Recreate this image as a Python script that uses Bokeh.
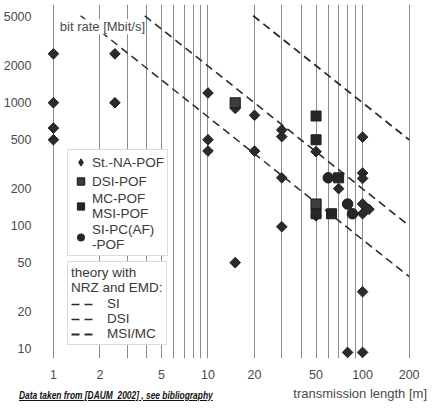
import math
from bokeh.plotting import figure
from bokeh.models import FixedTicker, Legend, LegendItem, Label, Range1d, Div
from bokeh.layouts import column
from bokeh.embed import file_html
from bokeh.resources import INLINE

# ---- axes / ticks ----
x_ticks = [1, 2, 5, 10, 20, 50, 100, 200]
x_tick_labels = ["1", "2", "5", "10", "20", "50", "100", "200"]
x_grid = [1, 2, 3, 4, 5, 6, 7, 8, 9, 10, 20, 30, 40, 50, 60, 70, 80, 90, 100, 200]
y_ticks = [10, 20, 50, 100, 200, 500, 1000, 2000, 5000]
y_tick_labels = ["10", "20", "50", "100", "200", "500", "1000", "2000", "5000"]

# ---- measured data: transmission length [m], bit rate [Mbit/s] ----
na_len = [1, 1, 1, 1, 2.5, 2.5, 10, 10, 10, 15, 15, 20, 20, 30, 30, 30, 30,
          50, 50, 70, 100, 100, 100, 100, 100, 100, 100, 110, 80]
na_rate = [2500, 1000, 622, 500, 2500, 1000, 1200, 500, 405, 900, 50, 790, 404,
           600, 530, 245, 98, 400, 120, 200, 525, 268, 242, 150, 125, 29, 9.3, 136, 9.3]

dsi_len = [15, 50]
dsi_rate = [1000, 150]

mc_len = [50, 50, 70, 50, 63]
mc_rate = [780, 500, 245, 125, 125]

pc_len = [60, 80, 86]
pc_rate = [245, 150, 125]

# ---- theory lines (NRZ, EMD) ----
si_len = [1.5, 200]
si_rate = [5100, 38.5]
dsi_th_len = [3.9, 200]
dsi_th_rate = [5100, 100]
msi_len = [19.6, 200]
msi_rate = [5100, 500]

FONT = "Liberation Sans"

p = figure(width=424, height=381, x_axis_type="log", y_axis_type="log",
           x_range=Range1d(0.85, 230), y_range=Range1d(8.3, 6300),
           output_backend="svg", toolbar_location=None,
           min_border_left=34, min_border_right=6, min_border_top=4, min_border_bottom=22)
p.outline_line_color = None
p.background_fill_color = "white"

# grid
p.xgrid.ticker = FixedTicker(ticks=x_grid)
p.xgrid.grid_line_color = "#8c8c8c"
p.xgrid.grid_line_width = 1
p.ygrid.grid_line_color = None

# axes
p.xaxis.ticker = FixedTicker(ticks=x_ticks)
p.xaxis.major_label_overrides = dict(zip(x_ticks, x_tick_labels))
p.yaxis.ticker = FixedTicker(ticks=y_ticks)
p.yaxis.major_label_overrides = dict(zip(y_ticks, y_tick_labels))
for ax in (p.xaxis[0], p.yaxis[0]):
    ax.axis_line_color = None
    ax.major_tick_line_color = None
    ax.minor_tick_line_color = None
    ax.major_label_text_font = FONT
    ax.major_label_text_font_size = "12.5px"
    ax.major_label_text_color = "#4a4a4a"
    ax.major_label_standoff = 5

# theory lines
line_kw = dict(line_color="#2a2a2a", line_dash="8 5")
r_si = p.line(si_len, si_rate, line_width=1.5, **line_kw)
r_dsi = p.line(dsi_th_len, dsi_th_rate, line_width=1.6, **line_kw)
r_msi = p.line(msi_len, msi_rate, line_width=1.8, **line_kw)

# markers
mk_na = dict(fill_color="#2b2b2b", line_color="#1e1e1e", line_width=1)
p.scatter(na_len, na_rate, marker="square", angle=math.pi / 4, size=7.5, **mk_na)
# zero-size twin of the same points, only to give the legend a diamond glyph
r_na_leg = p.scatter(na_len, na_rate, marker="diamond", size=0, **mk_na)
r_dsi_m = p.scatter(dsi_len, dsi_rate, marker="square", size=10,
                    fill_color="#3d3d3d", line_color="#1e1e1e", line_width=1.2)
r_mc = p.scatter(mc_len, mc_rate, marker="square", size=10,
                 fill_color="#262626", line_color="#1e1e1e", line_width=1)
r_pc = p.scatter(pc_len, pc_rate, marker="circle", size=10.5,
                 fill_color="#262626", line_color="#1e1e1e", line_width=1)

# y axis title inside plot
p.add_layout(Label(x=1.1, y=4150, text="bit rate [Mbit/s]", text_font=FONT,
                   text_font_size="13px", text_color="#4a4a4a", text_baseline="middle",
                   background_fill_color="white", background_fill_alpha=1.0))

leg_common = dict(label_text_font=FONT, label_text_font_size="13.5px",
                  label_text_color="#3a3a3a", background_fill_color="white",
                  background_fill_alpha=1.0, border_line_color="#b8b8b8",
                  border_line_width=1, padding=3, margin=0)

leg1 = Legend(items=[
    LegendItem(label="St.-NA-POF", renderers=[r_na_leg]),
    LegendItem(label="DSI-POF", renderers=[r_dsi_m]),
    LegendItem(label="MC-POF\nMSI-POF", renderers=[r_mc]),
    LegendItem(label="SI-PC(AF)\n-POF", renderers=[r_pc]),
], location=(25, 102), glyph_width=19, glyph_height=18, label_standoff=2, spacing=1,
    label_height=14, **leg_common)

leg2 = Legend(items=[
    LegendItem(label="SI", renderers=[r_si]),
    LegendItem(label="DSI", renderers=[r_dsi]),
    LegendItem(label="MSI/MC", renderers=[r_msi]),
], location=(25, 13), glyph_width=26, glyph_height=14, label_standoff=10, spacing=0,
    label_height=14, title="theory with\nNRZ and EMD:", title_text_font=FONT,
    title_text_font_size="13.5px", title_text_font_style="normal",
    title_text_color="#3a3a3a", title_standoff=1, **leg_common)

p.add_layout(leg1)
p.add_layout(leg2)

# bottom texts row
credit = "Data taken from [DAUM_2002] , see bibliography"
xlabel = "transmission length [m]"
div = Div(width=424, height=18, text=(
    '<div style="display:flex;justify-content:space-between;align-items:flex-end;'
    'width:422px;height:18px;">'
    '<span style="display:inline-block;transform:scaleX(0.84);transform-origin:left bottom;'
    'font-family:\'Liberation Sans\',sans-serif;white-space:nowrap;'
    'font-weight:bold;font-style:italic;font-size:10px;text-decoration:underline;'
    'color:#111;margin-left:14px;margin-bottom:1px;">' + credit + '</span>'
    '<span style="font-family:\'Liberation Sans\',sans-serif;font-size:13px;'
    'color:#4a4a4a;">' + xlabel + '</span></div>'))

layout = column(p, div, spacing=0)

open("out.html", "w").write(file_html(layout, INLINE))
